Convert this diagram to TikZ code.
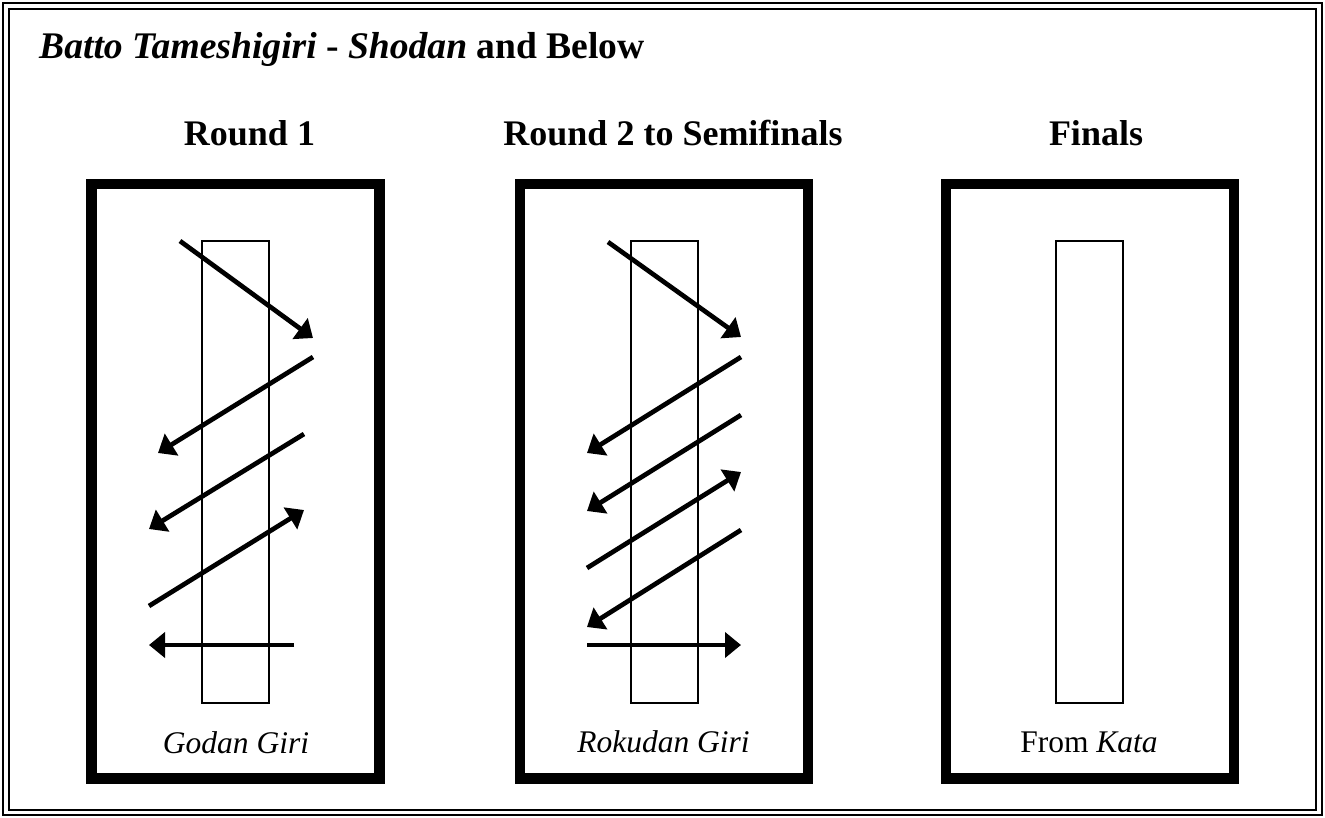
\documentclass[tikz,border=0pt]{standalone}
\usepackage{fontspec}
\setmainfont{Liberation Serif}
\usepackage{tikz}
\usetikzlibrary{positioning, arrows.meta}
\def\cut{\draw[-{Triangle[length=16pt,width=25pt]}, line width=4.7pt]}

\begin{document}
\begin{tikzpicture}[x=1pt, y=-1pt,
    frame/.style={draw, line width=10.5pt, minimum width=288pt, minimum height=594.5pt, inner sep=0pt},
    target/.style={draw, line width=2pt, minimum width=67pt, minimum height=462pt, inner sep=0pt},
    head/.style={anchor=base, inner sep=0pt, font=\fontsize{36}{40}\selectfont\bfseries},
    caption/.style={anchor=base, inner sep=0pt, font=\fontsize{31.5}{36}\selectfont}]
            \useasboundingbox (0,0) rectangle (1325,817);
            \draw[line width=2pt] (3,3) rectangle (1322,815);
            \draw[line width=2pt] (9,9) rectangle (1316,810);

            \node [anchor=base west, inner sep=0pt, font=\fontsize{37.6}{42}\selectfont\bfseries] (title) at (39,58)
                {\textit{Batto Tameshigiri} - \textit{Shodan} and Below};

            \node [frame] (F1) at (235.5,481.25) {};
            \node [frame] (F2) at (664,481.25) {};
            \node [frame] (F3) at (1090,481.25) {};
            \node [target] (T1) at (235.5,472) {};
            \node [target] (T2) at (664,472) {};
            \node [target] (T3) at (1089.5,472) {};

            \node [head] (H1) at (249.5,145) {Round 1};
            \node [head] (H2) at (673,145) {Round 2 to Semifinals};
            \node [head] (H3) at (1096,145) {Finals};

            \node [caption] (C1) at (236,753) {\textit{Godan Giri}};
            \node [caption] (C2) at (663.5,752) {\textit{Rokudan Giri}};
            \node [caption] (C3) at (1089,752) {From \textit{Kata}};

            % godan giri
            \cut (180,241) -- (313,338);
            \cut (313,357) -- (158,453);
            \cut (304,434) -- (149,529);
            \cut (149,606) -- (304,510);
            \cut (294,645) -- (149,645);

            % rokudan giri
            \cut (608,242) -- (741,337);
            \cut (741,357) -- (587,453);
            \cut (741,415) -- (587,511);
            \cut (587,568) -- (741,472);
            \cut (741,530) -- (587,627);
            \cut (587,645) -- (741,645);
        \end{tikzpicture}
\end{document}
